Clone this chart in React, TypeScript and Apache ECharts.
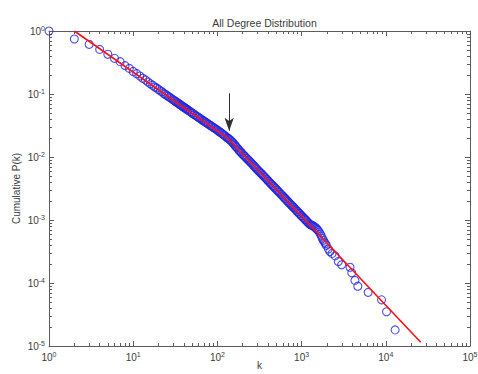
import React, { useEffect, useRef } from "react";
import * as echarts from "echarts";

// Degree k and cumulative probability P(k)
const degreeK = [
  1, 2, 3, 4, 5, 6, 7, 8, 9,
  10, 11, 12, 13, 14, 15, 16, 17, 18, 19, 20, 21, 22, 23, 24, 25, 26, 27, 28, 29, 30,
  31, 32, 33, 34, 35, 36, 37, 38, 39, 40, 41, 42, 43, 44, 45, 47, 48, 50, 51, 53, 54, 56, 58, 60,
  62, 64, 66, 68, 70, 72, 74, 77, 79, 82, 84, 87, 90, 93, 96, 99, 102, 105, 108, 112, 115, 119, 122, 126,
  130, 133, 137, 141, 145, 149, 153, 157, 162, 166, 171, 176, 181, 186, 191, 196, 202, 207, 213, 219,
  225, 232, 238, 245, 252, 259, 266, 274, 281, 289, 297, 306, 314, 323, 332, 342, 351, 361, 371, 382,
  393, 404, 415, 427, 439, 451, 464, 477, 490, 504, 519, 533, 548, 564, 580, 596, 613, 630, 648, 666,
  685, 704, 724, 745, 766, 787, 809, 832, 856, 880, 905, 930, 956, 983, 1011, 1040, 1069, 1099, 1130,
  1162, 1194, 1228, 1263, 1298, 1335, 1372, 1411, 1451, 1492, 1534, 1577, 1621, 1667, 1714, 1762, 1812, 1863, 1915, 1969,
  2080, 2170, 2300, 2500, 2730, 2990, 3760, 3940, 4300, 4650, 6170, 8900, 10200, 12900,
];
const cumulativeP = [
  1, 0.746, 0.615, 0.51, 0.427, 0.368, 0.326, 0.282, 0.255,
  0.228, 0.21, 0.193, 0.178, 0.167, 0.155, 0.145, 0.138, 0.129, 0.125, 0.118, 0.112, 0.109, 0.103, 0.0991, 0.0953, 0.0922, 0.0887, 0.0861, 0.083, 0.0807,
  0.078, 0.076, 0.0733, 0.0719, 0.0695, 0.0683, 0.0661, 0.0647, 0.0628, 0.0616, 0.0601, 0.059, 0.0576, 0.0564, 0.0553, 0.0529, 0.0521, 0.05, 0.0493, 0.0473, 0.0467, 0.0449, 0.0437, 0.0424,
  0.0411, 0.04, 0.0387, 0.0378, 0.0367, 0.0359, 0.0348, 0.0338, 0.0329, 0.0319, 0.0312, 0.0302, 0.0293, 0.0285, 0.0277, 0.0269, 0.0261, 0.0254, 0.0247, 0.0239, 0.0231, 0.0224, 0.0218, 0.0211,
  0.0204, 0.0199, 0.0193, 0.0188, 0.0181, 0.0174, 0.0168, 0.0161, 0.0154, 0.0147, 0.0141, 0.0134, 0.0128, 0.0122, 0.0119, 0.0114, 0.0109, 0.0105, 0.0102, 0.0097,
  0.00944, 0.009, 0.00871, 0.00832, 0.00807, 0.00771, 0.00747, 0.00712, 0.00691, 0.00661, 0.00637, 0.00609, 0.00591, 0.00565, 0.00547, 0.00522, 0.00506, 0.00483, 0.00468, 0.00447,
  0.00434, 0.00414, 0.004, 0.00382, 0.00371, 0.00353, 0.00343, 0.00327, 0.00318, 0.00302, 0.00294, 0.0028, 0.00271, 0.00258, 0.00251, 0.0024, 0.00232, 0.00221, 0.00215, 0.00205,
  0.00198, 0.0019, 0.00183, 0.00175, 0.0017, 0.00162, 0.00158, 0.0015, 0.00146, 0.00138, 0.00135, 0.00128, 0.00125, 0.00118, 0.00116, 0.0011, 0.00107, 0.00102, 0.000993,
  0.000944, 0.000912, 0.000875, 0.000851, 0.000828, 0.000817, 0.000804, 0.000785, 0.000762, 0.000738, 0.000708, 0.000679, 0.000643, 0.0006, 0.000556, 0.000513, 0.000476, 0.000447, 0.000422, 0.000398,
  0.000347, 0.000316, 0.000295, 0.000269, 0.000219, 0.000195, 0.000178, 0.000145, 0.00011, 0.000089, 0.000071, 0.000054, 0.000035, 0.000018,
];

// Fitted (red) line: two power-law segments
const fitK = [2, 132, 26000];
const fitP = [1, 0.02, 1.15e-5];

// Arrow annotation marking the knee
const arrowK = 138;
const arrowP = [0.1026, 0.0262];

// Axis decades (exponents) and minor tick mantissas
const xDecades = [0, 1, 2, 3, 4, 5];
const yDecades = [-5, -4, -3, -2, -1, 0];
const minorMantissas = [2, 3, 4, 5, 6, 7, 8, 9];

const FONT = "'Liberation Sans', Arial, Helvetica, sans-serif";
const AXIS = "#5c5c5c";
const TEXT = "#3c3c3c";

const minorX = xDecades.slice(0, -1).flatMap((e) => minorMantissas.map((m) => e + Math.log10(m)));
const minorY = yDecades.slice(0, -1).flatMap((e) => minorMantissas.map((m) => e + Math.log10(m)));

function supLabel(v: number) {
  const e = Math.round(Math.log10(v));
  return `{b|10}{s|${e}}`;
}

const rich = {
  b: { fontSize: 10, color: TEXT, fontFamily: FONT },
  s: { fontSize: 7, color: TEXT, fontFamily: FONT, padding: [0, 0, 6, 0] },
};

const lineOn = { show: true, onZero: false, lineStyle: { color: AXIS, width: 1 } };
const lineOff = { show: false, onZero: false };
const majorTick = { show: true, inside: true, length: 5, lineStyle: { color: AXIS, width: 1 } };

function minorTick(values: number[]) {
  return { show: true, inside: true, length: 3, customValues: values, lineStyle: { color: AXIS, width: 1 } };
}

export default function App() {
  const ref = useRef<HTMLDivElement>(null);
  useEffect(() => {
    if (!ref.current) return;
    const chart = echarts.init(ref.current, null, { renderer: "svg" });
    const option: any = {
      animation: false,
      backgroundColor: "#ffffff",
      title: {
        text: "All Degree Distribution",
        left: 259.5,
        top: 12,
        textAlign: "center",
        textStyle: { fontSize: 10.5, fontWeight: "normal", color: TEXT, fontFamily: FONT },
      },
      grid: { left: 49, right: 8, top: 31, bottom: 28, containLabel: false, outerBoundsMode: "none" },
      xAxis: [
        {
          type: "log",
          logBase: 10,
          min: 1,
          max: 100000,
          position: "bottom",
          axisLine: lineOn,
          axisTick: majorTick,
          axisLabel: { formatter: supLabel, rich, margin: 5 },
          splitLine: { show: false },
          name: "k",
          nameLocation: "middle",
          nameGap: 14,
          nameMoveOverlap: false,
          nameTextStyle: { fontSize: 10, color: TEXT, fontFamily: FONT },
        },
        {
          type: "log",
          logBase: 10,
          min: 1,
          max: 100000,
          position: "top",
          axisLine: lineOn,
          axisTick: majorTick,
          axisLabel: { show: false },
          splitLine: { show: false },
        },
        {
          type: "value",
          min: 0,
          max: 5,
          position: "bottom",
          axisLine: lineOff,
          axisTick: minorTick(minorX),
          axisLabel: { show: false },
          splitLine: { show: false },
        },
        {
          type: "value",
          min: 0,
          max: 5,
          position: "top",
          axisLine: lineOff,
          axisTick: minorTick(minorX),
          axisLabel: { show: false },
          splitLine: { show: false },
        },
      ],
      yAxis: [
        {
          type: "log",
          logBase: 10,
          min: 0.00001,
          max: 1,
          position: "left",
          axisLine: lineOn,
          axisTick: majorTick,
          axisLabel: { formatter: supLabel, rich, margin: 4 },
          splitLine: { show: false },
          name: "Cumulative P(k)",
          nameLocation: "middle",
          nameGap: 28,
          nameMoveOverlap: false,
          nameTextStyle: { fontSize: 10, color: TEXT, fontFamily: FONT },
        },
        {
          type: "log",
          logBase: 10,
          min: 0.00001,
          max: 1,
          position: "right",
          axisLine: lineOn,
          axisTick: majorTick,
          axisLabel: { show: false },
          splitLine: { show: false },
        },
        {
          type: "value",
          min: -5,
          max: 0,
          position: "left",
          axisLine: lineOff,
          axisTick: minorTick(minorY),
          axisLabel: { show: false },
          splitLine: { show: false },
        },
        {
          type: "value",
          min: -5,
          max: 0,
          position: "right",
          axisLine: lineOff,
          axisTick: minorTick(minorY),
          axisLabel: { show: false },
          splitLine: { show: false },
        },
      ],
      series: [
        {
          type: "scatter",
          xAxisIndex: 0,
          yAxisIndex: 0,
          data: degreeK.map((k, i) => [k, cumulativeP[i]]),
          symbol: "circle",
          symbolSize: 8,
          silent: true,
          itemStyle: { color: "rgba(0,0,0,0)", borderColor: "#2424dc", borderWidth: 1.1 },
          z: 2,
        },
        {
          type: "line",
          xAxisIndex: 0,
          yAxisIndex: 0,
          data: fitK.map((k, i) => [k, fitP[i]]),
          showSymbol: false,
          silent: true,
          lineStyle: { color: "#ff1010", width: 1.6 },
          z: 3,
          markLine: {
            silent: true,
            animation: false,
            label: { show: false },
            lineStyle: { color: "#303030", width: 1, type: "solid" },
            data: [
              [
                { coord: [arrowK, arrowP[0]], symbol: "none" },
                { coord: [arrowK, arrowP[1]], symbol: "arrow", symbolSize: [7, 13] },
              ],
            ],
          },
        },
      ],
    };
    chart.setOption(option);
    return () => chart.dispose();
  }, []);
  return (
    <div
      ref={ref}
      style={{ position: "fixed", left: 0, top: 0, width: 478, height: 374, background: "#fff" }}
    />
  );
}
